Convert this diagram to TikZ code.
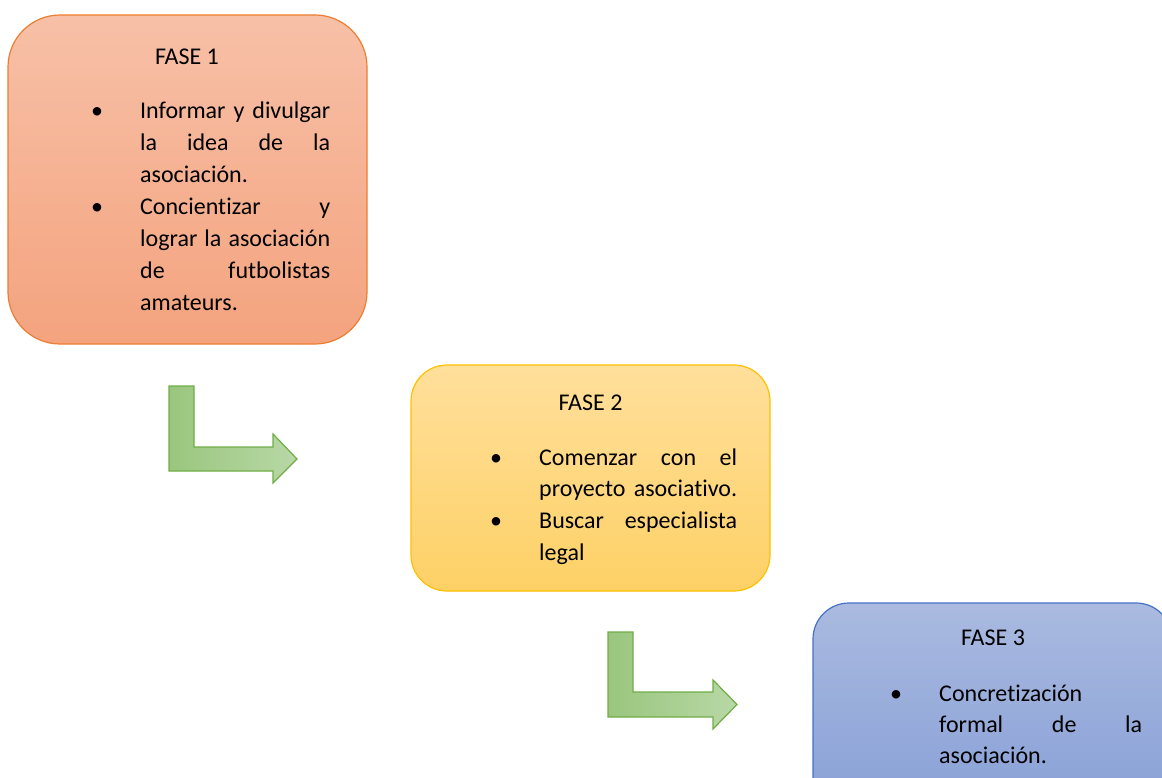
\documentclass[tikz,border=0pt]{standalone}
\usepackage{fontspec}
\setmainfont[Ligatures={NoCommon}]{Carlito}
\definecolor{o1}{HTML}{F7C0A7}
\definecolor{o2}{HTML}{F4A37E}
\definecolor{oB}{HTML}{ED7D31}
\definecolor{y1}{HTML}{FFDF9B}
\definecolor{y2}{HTML}{FED166}
\definecolor{yB}{HTML}{FFC000}
\definecolor{b1}{HTML}{AABAE0}
\definecolor{b2}{HTML}{859ED6}
\definecolor{bB}{HTML}{4472C4}
\definecolor{g1}{HTML}{9AC67E}
\definecolor{g2}{HTML}{B8D8A6}
\definecolor{gB}{HTML}{70AD47}
\newcommand\jl[2]{\makebox[#1][s]{#2}}
\begin{document}
\begin{tikzpicture}[x=1pt,y=-1pt,
  phase/.style={draw, line width=1.2pt, minimum width=359pt, inner sep=0pt},
  txt/.style={inner sep=0pt, font=\fontsize{24}{32}\selectfont, text=black},
  bendarrow/.style={draw=gB, line width=1.2pt, left color=g1, right color=g2, line join=miter}]
\useasboundingbox (0,0) rectangle (1162,778);
% boxes
\node[phase, draw=oB, top color=o1, bottom color=o2, minimum height=329pt, rounded corners=52pt] (f1) at (187.5,179.5) {};
\node[phase, draw=yB, top color=y1, bottom color=y2, minimum height=226pt, rounded corners=36pt] (f2) at (590.5,478) {};
\node[phase, draw=bB, top color=b1, bottom color=b2, minimum height=226pt, rounded corners=36pt] (f3) at (992.5,716) {};
% box 1 text
\node[txt, anchor=base] (h1) at (187,65) {FASE 1};
\node[txt, anchor=base] (u1) at (97,119) {•};
\node[txt, anchor=base] (u2) at (97,214.5) {•};
\node[txt, anchor=base west] (a1) at (140,119) {\jl{190pt}{Informar y divulgar}};
\node[txt, anchor=base west] (a2) at (140,151) {\jl{190pt}{la idea de la}};
\node[txt, anchor=base west] (a3) at (140,183) {asociación.};
\node[txt, anchor=base west] (a4) at (140,214.5) {\jl{190pt}{Concientizar y}};
\node[txt, anchor=base west] (a5) at (140,246.5) {\jl{190pt}{lograr la asociación}};
\node[txt, anchor=base west] (a6) at (140,278) {\jl{190pt}{de futbolistas}};
\node[txt, anchor=base west] (a7) at (140,310) {amateurs.};
% box 2 text
\node[txt, anchor=base] (h2) at (590.5,410) {FASE 2};
\node[txt, anchor=base] (v1) at (496,465) {•};
\node[txt, anchor=base] (v2) at (496,528) {•};
\node[txt, anchor=base west] (b1t) at (539,465) {\jl{198pt}{Comenzar con el}};
\node[txt, anchor=base west] (b2t) at (539,496.5) {\jl{198pt}{proyecto asociativo.}};
\node[txt, anchor=base west] (b3t) at (539,528) {\jl{198pt}{Buscar especialista}};
\node[txt, anchor=base west] (b4t) at (539,560) {legal};
% box 3 text
\node[txt, anchor=base] (h3) at (993,645) {FASE 3};
\node[txt, anchor=base] (w1) at (896,701) {•};
\node[txt, anchor=base west] (c1) at (939,701) {Concretización};
\node[txt, anchor=base west] (c2) at (939,732) {\jl{203pt}{formal de la}};
\node[txt, anchor=base west] (c3) at (939,763) {asociación.};
% bent arrows
\draw[bendarrow] (169,386) -- (194,386) -- (194,447) -- (273,447) -- (273,434) -- (297,459) -- (273,483) -- (273,471) -- (169,471) -- cycle;
\draw[bendarrow] (608,632) -- (633,632) -- (633,692) -- (713,692) -- (713,680) -- (737,704.5) -- (713,729) -- (713,717) -- (608,717) -- cycle;
\end{tikzpicture}
\end{document}
